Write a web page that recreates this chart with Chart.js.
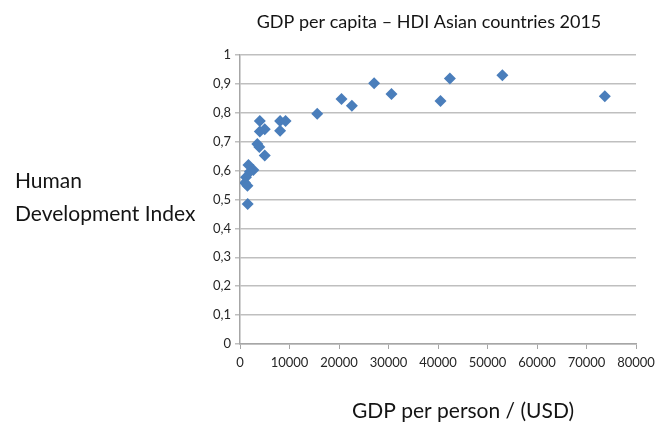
<!DOCTYPE html>
<html>
<head>
<meta charset="utf-8">
<script src="https://cdn.jsdelivr.net/npm/chart.js@4/dist/chart.umd.min.js"></script>
<style>
  html, body { margin: 0; padding: 0; background: #fff; }
  #wrap { width: 667px; height: 430px; position: relative; }
</style>
</head>
<body>
<div id="wrap"><canvas id="c" width="667" height="430"></canvas></div>
<script>
// GDP per capita (USD) and Human Development Index, Asian countries, 2015
const gdpPerCapita = [
  27100, 30600, 20500, 22600, 15600, 8100, 9200, 8100,
  4000, 4000, 5000, 3500, 3900, 5000,
  1700, 2700, 2000, 1200, 1000, 1500, 1550,
  42400, 53000, 40500, 73700
];
const hdi = [
  0.902, 0.865, 0.848, 0.824, 0.797, 0.772, 0.772, 0.738,
  0.772, 0.735, 0.743, 0.692, 0.682, 0.652,
  0.619, 0.602, 0.596, 0.577, 0.558, 0.548, 0.484,
  0.919, 0.930, 0.841, 0.857
];
const xTicks = [0, 10000, 20000, 30000, 40000, 50000, 60000, 70000, 80000];
const yTicks = [0, 0.1, 0.2, 0.3, 0.4, 0.5, 0.6, 0.7, 0.8, 0.9, 1];

const chartTitle = 'GDP per capita \u2013 HDI Asian countries 2015';
const yTitleLines = ['Human', 'Development Index'];
const xTitle = 'GDP per person / (USD)';

const points = gdpPerCapita.map((g, i) => ({ x: g, y: hdi[i] }));
const FONT = 'Lato, "Open Sans", sans-serif';

// Titles drawn as plain horizontal text around the plot
const titlesPlugin = {
  id: 'titles',
  afterDraw(chart) {
    const ctx = chart.ctx;
    ctx.save();
    ctx.fillStyle = '#141414';
    ctx.textBaseline = 'middle';
    ctx.font = '18px ' + FONT;
    ctx.textAlign = 'center';
    ctx.fillText(chartTitle, 429, 22);
    ctx.font = '21px ' + FONT;
    ctx.fillText(xTitle, 463, 411);
    ctx.textAlign = 'left';
    ctx.fillText(yTitleLines[0], 15, 181);
    ctx.fillText(yTitleLines[1], 15, 214);
    ctx.restore();
  }
};

new Chart(document.getElementById('c'), {
  type: 'scatter',
  data: {
    datasets: [{
      data: points,
      pointStyle: 'rectRot',
      pointRadius: 6,
      pointHoverRadius: 6,
      backgroundColor: '#4a7ebb',
      borderColor: '#4a7ebb',
      borderWidth: 0
    }]
  },
  options: {
    responsive: false,
    animation: false,
    events: [],
    layout: { padding: { top: 55, right: 31, left: 0, bottom: 0 } },
    plugins: { legend: { display: false }, tooltip: { enabled: false } },
    scales: {
      x: {
        type: 'linear',
        min: xTicks[0],
        max: xTicks[xTicks.length - 1],
        afterBuildTicks(scale) { scale.ticks = xTicks.map(v => ({ value: v })); },
        afterFit(scale) { scale.height = 86; },
        grid: {
          display: true,
          drawOnChartArea: false,
          drawTicks: true,
          tickLength: 5,
          color: '#a6a6a6',
          lineWidth: 1
        },
        border: { display: true, color: '#a6a6a6', width: 1.5 },
        ticks: {
          padding: 6,
          maxRotation: 0,
          autoSkip: false,
          color: '#262626',
          font: { family: FONT, size: 13 },
          callback: v => String(v)
        }
      },
      y: {
        type: 'linear',
        min: yTicks[0],
        max: yTicks[yTicks.length - 1],
        afterBuildTicks(scale) { scale.ticks = yTicks.map(v => ({ value: v })); },
        afterFit(scale) { scale.width = 240; },
        grid: {
          display: true,
          drawTicks: true,
          tickLength: 5,
          color: '#bfbfbf',
          lineWidth: 1.5
        },
        border: { display: true, color: '#a6a6a6', width: 1.5 },
        ticks: {
          padding: 4,
          color: '#262626',
          font: { family: FONT, size: 13 },
          callback: v => (Math.round(v * 10) / 10).toString().replace('.', ',')
        }
      }
    }
  },
  plugins: [titlesPlugin]
});
</script>
</body>
</html>
